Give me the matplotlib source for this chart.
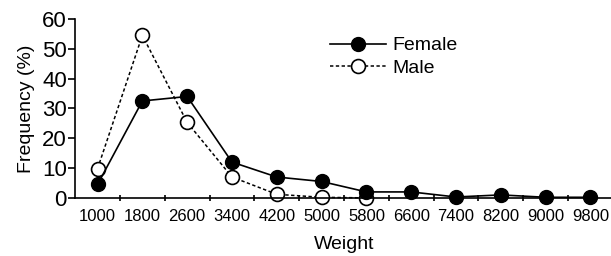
import numpy as np
import matplotlib
matplotlib.use('Agg')
import matplotlib.pyplot as plt

plt.rcParams['font.family'] = ['Liberation Sans', 'DejaVu Sans']

weights = ['1000', '1800', '2600', '3400', '4200', '5000', '5800',
           '6600', '7400', '8200', '9000', '9800']
female = [4.5, 32.5, 34, 12, 7, 5.5, 2, 2, 0.3, 1, 0.2, 0.2]
male = [9.8, 54.5, 25.3, 7, 1.2, 0.2, 0]

fig = plt.figure(figsize=(6.11, 2.56), dpi=100)
ax = fig.add_axes([0.123, 0.227, 0.88, 0.699])

idx = np.arange(len(weights))
ax.plot(idx, female, '-', color='black', lw=1.2, marker='o', ms=10,
        mfc='black', mec='black', label='Female', zorder=3)
ax.plot(idx[:len(male)], male, color='black', lw=1.1, dashes=(2.2, 1.6),
        marker='o', ms=10, mfc='white', mec='black', mew=1.2,
        label='Male', zorder=2)

ax.set_xlim(-0.5, len(weights) - 0.5)
ax.set_ylim(0, 60)
ax.set_yticks(range(0, 61, 10))
ax.set_xticks(idx + 0.5, minor=False)
ax.set_xticklabels([])
ax.set_xticks(idx, minor=True)
ax.set_xticklabels(weights, minor=True, fontsize=12)
ax.tick_params(axis='x', which='minor', length=0, pad=8)
ax.tick_params(axis='x', which='major', length=4, width=1.2, direction='inout')
ax.tick_params(axis='y', labelsize=16, length=5, width=1.2, pad=1)

for s in ['top', 'right']:
    ax.spines[s].set_visible(False)
for s in ['left', 'bottom']:
    ax.spines[s].set_linewidth(1.2)
ax.spines['bottom'].set_bounds(-0.5, len(weights) - 0.45)
for l in ax.lines:
    l.set_clip_on(False)

ax.set_xlabel('Weight', fontsize=14, labelpad=9)
ax.set_ylabel('Frequency (%)', fontsize=14, labelpad=5)

ax.legend(loc='upper left', bbox_to_anchor=(0.455, 0.955), frameon=False,
          fontsize=14, handlelength=2.9, handletextpad=0.35,
          labelspacing=0.25, borderpad=0)

fig.savefig('out.png', dpi=100)
